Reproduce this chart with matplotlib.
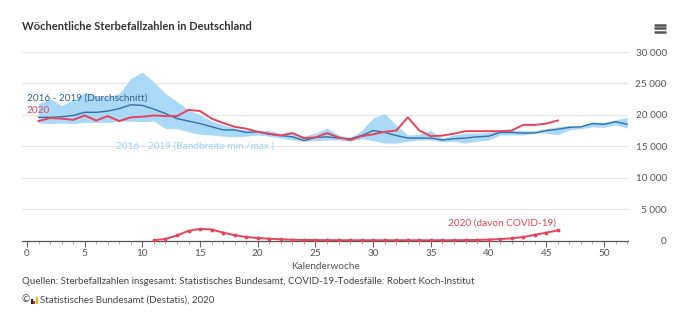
import numpy as np
import matplotlib.pyplot as plt
from matplotlib.patches import Rectangle

plt.rcParams['font.family'] = ['Lato', 'DejaVu Sans']

# Kalenderwochen
wochen = np.arange(1, 53)
wochen_2020 = np.arange(1, 47)
wochen_covid = np.arange(11, 47)

# 2016 - 2019 Durchschnitt
durchschnitt = [19600, 19600, 19700, 19900, 20400, 20400, 20600, 21000, 21600, 21500,
                20900, 20200, 19400, 19000, 18600, 18100, 17600, 17600, 17200, 17300,
                16900, 16700, 16500, 15900, 16400, 16500, 16300, 16200, 16700, 17500,
                17200, 16700, 16300, 16300, 16300, 16000, 16200, 16300, 16500, 16600,
                17200, 17200, 17100, 17100, 17500, 17700, 18000, 18100, 18600, 18500,
                18900, 18500]

# 2016 - 2019 Bandbreite
band_max = [21800, 22600, 21500, 22300, 23600, 23100, 22900, 23400, 25800, 26800,
            25200, 23400, 22100, 20800, 20000, 19000, 18400, 17900, 17600, 17500,
            17500, 17100, 17200, 16600, 17100, 17900, 16800, 16300, 17500, 19500,
            20200, 18400, 16800, 16900, 17500, 16300, 16800, 17100, 17100, 17200,
            17500, 17600, 17500, 17500, 17800, 18100, 18300, 18300, 18900, 18800,
            19200, 19600]
band_min = [18700, 18600, 18700, 18600, 18800, 18800, 18800, 19000, 19000, 18900,
            19000, 17800, 17800, 17300, 16900, 16800, 16600, 16500, 16600, 16800,
            16600, 16300, 16000, 15800, 15900, 16000, 16000, 15800, 16200, 15900,
            15500, 15500, 15800, 16000, 16000, 15700, 15800, 15500, 15800, 16000,
            16800, 16800, 16800, 17100, 17100, 16800, 17600, 17800, 18100, 18000,
            18400, 17900]

# 2020 insgesamt
sterbefaelle_2020 = [19000, 19500, 19400, 19200, 19900, 19100, 19800, 19000, 19600, 19700,
                     19900, 19800, 19800, 20800, 20600, 19400, 18700, 18100, 17800, 17300,
                     17000, 16700, 17100, 16300, 16400, 17100, 16400, 16000, 16600, 16900,
                     17300, 17500, 19600, 17500, 16600, 16700, 17000, 17400, 17400, 17400,
                     17400, 17500, 18400, 18400, 18600, 19100]

# 2020 davon COVID-19
covid_2020 = [40, 250, 800, 1550, 1850, 1750, 1250, 850, 550, 400,
              280, 180, 120, 90, 70, 60, 50, 40, 40, 40,
              40, 40, 40, 40, 40, 40, 50, 60, 90, 150,
              220, 350, 550, 900, 1250, 1600]

y_ticks = [0, 5000, 10000, 15000, 20000, 25000, 30000]
x_ticks = [0, 5, 10, 15, 20, 25, 30, 35, 40, 45, 50]

rot = '#e8435a'
blau = '#3270a6'
hellblau = '#aad8f7'

fig = plt.figure(figsize=(7, 3.29), dpi=100)
ax = fig.add_axes([22 / 700, 1 - 240.5 / 329, 606 / 700, 188.5 / 329])

ax.fill_between(wochen, band_min, band_max, color=hellblau, lw=0, zorder=1)
ax.plot(wochen, durchschnitt, color=blau, lw=1.0, zorder=3)
ax.plot(wochen_2020, sterbefaelle_2020, color=rot, lw=1.4, zorder=4)
ax.plot(wochen_covid, covid_2020, color=rot, lw=1.4, marker='o', ms=1.8, zorder=4)

ax.set_xlim(-0.43, 52.08)
ax.set_ylim(0, 30000)

ax.set_yticks(y_ticks)
ax.set_yticklabels([f"{v:,}".replace(",", " ") for v in y_ticks])
ax.yaxis.tick_right()
ax.tick_params(axis='y', length=0, pad=28, labelsize=7.2, labelcolor='#555555')
for lab in ax.get_yticklabels():
    lab.set_ha('right')
ax.grid(axis='y', color='#e6e6e6', lw=0.9, zorder=0)
ax.set_axisbelow(True)

ax.set_xticks(x_ticks)
ax.set_xticks(np.arange(0, 53), minor=True)
ax.tick_params(axis='x', which='major', length=4, width=0.8, color='#666666',
               labelsize=7.2, labelcolor='#555555', pad=2)
ax.tick_params(axis='x', which='minor', length=2.5, width=0.6, color='#999999')

for s in ['top', 'right', 'left']:
    ax.spines[s].set_visible(False)
ax.spines['bottom'].set_color('#555555')
ax.spines['bottom'].set_linewidth(0.9)

ax.set_xlabel("Kalenderwoche", fontsize=7.2, color='#555555', labelpad=3)

ax.text(0.0, 22600, "2016 - 2019 (Durchschnitt)", color='#34618e', fontsize=7.2,
        ha='left', va='center', zorder=5)
ax.text(0.0, 20700, "2020", color=rot, fontsize=7.2, ha='left', va='center', zorder=5)
ax.text(7.7, 15000, "2016 - 2019 (Bandbreite min./max.)", color='#9fd3f6', fontsize=7.2,
        ha='left', va='center', zorder=5)
ax.text(45.8, 2800, "2020 (davon COVID-19)", color=rot, fontsize=7.2,
        ha='right', va='center', zorder=5)

fig.text(22 / 700, 1 - 26 / 329, "Wöchentliche Sterbefallzahlen in Deutschland",
         fontsize=8, fontweight='bold', color='#333333', ha='left', va='center')

# Menü-Symbol
for yy in [24.5, 28, 31.5]:
    fig.add_artist(plt.Line2D([654 / 700, 666 / 700], [1 - yy / 329, 1 - yy / 329],
                              color='#555555', lw=1.8, solid_capstyle='butt'))

fig.text(22 / 700, 1 - 281 / 329,
         "Quellen: Sterbefallzahlen insgesamt: Statistisches Bundesamt, "
         "COVID-19-Todesfälle: Robert Koch-Institut",
         fontsize=7, color='#444444', ha='left', va='center')
fig.text(22 / 700, 1 - 300 / 329, "©", fontsize=7, color='#444444', ha='left', va='center')
for i, (c, h) in enumerate([('#222222', 5), ('#dd2222', 3), ('#f0b400', 7)]):
    fig.add_artist(Rectangle(((31 + i * 2.4) / 700, 1 - 303.5 / 329), 2 / 700, h / 329,
                             color=c, lw=0))
fig.text(40 / 700, 1 - 300 / 329, "Statistisches Bundesamt (Destatis), 2020",
         fontsize=7, color='#444444', ha='left', va='center')

fig.savefig("out.png", dpi=100)
